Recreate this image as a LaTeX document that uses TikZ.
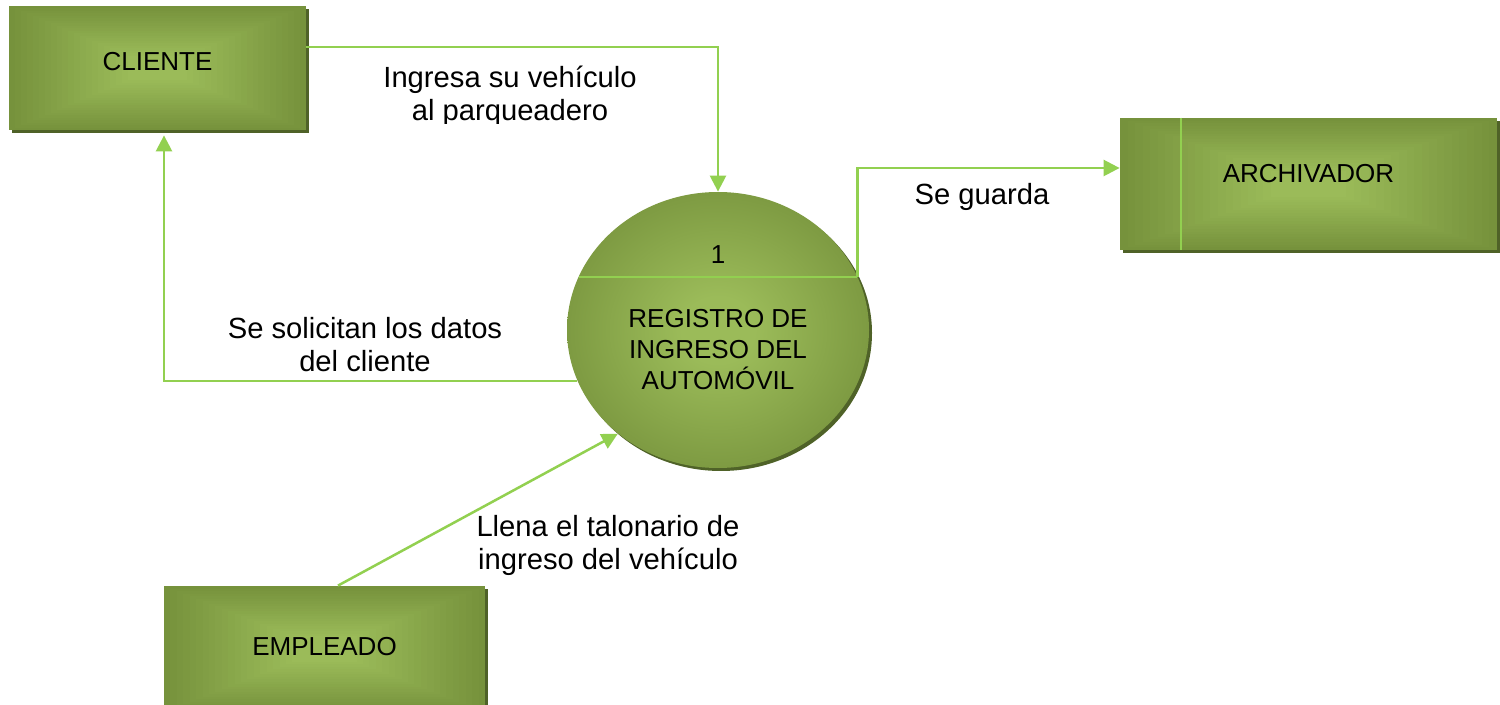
\documentclass[tikz,border=0pt]{standalone}
\usepackage{fontspec}
\setmainfont{Liberation Sans}
\usetikzlibrary{calc,shapes.geometric,shadows,arrows.meta}
\definecolor{gdark}{HTML}{76923C}
\definecolor{glight}{HTML}{9BBB59}
\definecolor{gshadow}{HTML}{4F6228}
\definecolor{gline}{HTML}{92D050}
\pgfdeclareradialshading{procshade}{\pgfpoint{0bp}{0bp}}{color(0bp)=(glight); color(6bp)=(glight); color(30bp)=(gdark); color(50bp)=(gdark)}
\tikzset{
  entity/.style={rectangle, inner sep=0pt, draw=none,
    drop shadow={shadow xshift=1.5pt, shadow yshift=-1.5pt, fill=gshadow, opacity=1},
    path picture={
      \foreach \f in {0,0.04,...,0.81} {
        \pgfmathsetmacro\pc{100*\f/0.8}
        \fill[glight!\pc!gdark] ($(path picture bounding box.south west)!\f!(path picture bounding box.center)$) rectangle ($(path picture bounding box.north east)!\f!(path picture bounding box.center)$);
      }
    }},
  boxtext/.style={font=\fontsize{13pt}{15pt}\selectfont, text=black},
  proc/.style={ellipse, inner sep=0pt, draw=none, shading=procshade,
    drop shadow={shadow xshift=1.5pt, shadow yshift=-1.5pt, fill=gshadow, opacity=1}},
  flow/.style={draw=gline, line width=1.25pt, -{Triangle[width=8pt,length=8pt]}},
  divider/.style={draw=gline, line width=1pt},
  flowlabel/.style={font=\fontsize{14.6pt}{16.5pt}\selectfont, align=center, text=black, inner sep=0pt}
}
\begin{document}
\begin{tikzpicture}[x=0.5pt,y=-0.5pt]
\useasboundingbox (0,0) rectangle (1500,705);
% entities
\node[entity, minimum width=148.5pt, minimum height=62pt,
  label={[boxtext, yshift=3pt]center:CLIENTE}] (cliente) at (157.5,68) {};
\node[entity, minimum width=188.5pt, minimum height=66pt,
  label={[boxtext, yshift=5pt]center:ARCHIVADOR}] (archivador) at (1308.5,184) {};
\node[entity, minimum width=160.5pt, minimum height=63pt,
  label={[boxtext, yshift=1pt]center:EMPLEADO}] (empleado) at (324.5,649) {};
% inner line of the data store
\coordinate (arcT) at ($(archivador.north west)+(30.5pt,0)$);
\coordinate (arcB) at ($(archivador.south west)+(30.5pt,0)$);
\draw[divider] (arcT) -- (arcB);
% process
\node[proc, minimum width=151pt, minimum height=138pt] (proceso) at (718,330) {};
\coordinate (lineL) at (578.6,277);
\coordinate (lineR) at (857.4,277);
\draw[divider] (lineL) -- (lineR);
\node[boxtext] (num) at (718,255) {1};
\node[boxtext, align=center, font=\fontsize{13pt}{15.5pt}\selectfont] (ptext) at (718,350) {REGISTRO DE\\INGRESO DEL\\AUTOMÓVIL};
% flows
\draw[flow] ([yshift=10.5pt]cliente.east) -| (proceso.north);
\draw[flow] (proceso.200) -| ([xshift=3.25pt,yshift=-2.5pt]cliente.south);
\draw[flow] ([xshift=6.75pt]empleado.north) -- (proceso.226);
\draw[flow] (lineR) |- ([yshift=8pt]archivador.west);
% labels
\begin{scope}
\clip (350,50) rectangle (680,124);
\node[flowlabel] (l1) at (510,96) {Ingresa su vehículo\\al parqueadero};
\end{scope}
\node[flowlabel] (l2) at (982,197) {Se guarda};
\node[flowlabel] (l3) at (365,345) {Se solicitan los datos\\del cliente};
\node[flowlabel] (l4) at (608,545) {Llena el talonario de\\ingreso del vehículo};
\end{tikzpicture}
\end{document}
